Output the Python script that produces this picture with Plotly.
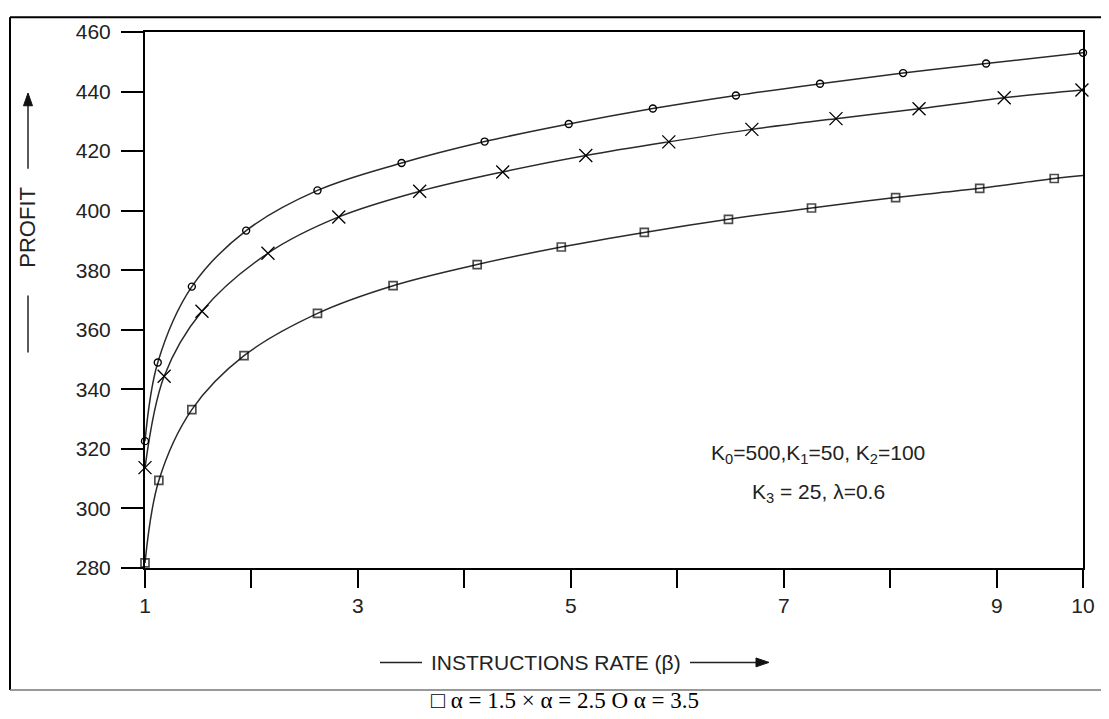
import plotly.graph_objects as go

# Data (x in axis units; the "10" tick sits at the axis end, 9.81)
x_sq = [1.0, 1.13, 1.44, 1.93, 2.62, 3.33, 4.12, 4.91, 5.69, 6.48, 7.26, 8.05, 8.84, 9.54, 9.81]
y_sq = [281.7, 309.4, 333.2, 351.3, 365.5, 374.8, 381.9, 387.8, 392.7, 397.1, 400.9, 404.4, 407.5, 410.8, 411.8]
sq_marked = [True] * 14 + [False]

x_x = [1.0, 1.18, 1.535, 2.155, 2.82, 3.58, 4.36, 5.14, 5.92, 6.70, 7.49, 8.27, 9.07, 9.80]
y_x = [313.7, 344.4, 366.2, 385.7, 397.9, 406.5, 413.0, 418.5, 423.1, 427.3, 430.9, 434.2, 437.9, 440.5]

x_o = [1.0, 1.12, 1.44, 1.95, 2.62, 3.41, 4.19, 4.98, 5.77, 6.55, 7.34, 8.12, 8.90, 9.81]
y_o = [322.6, 349.0, 374.5, 393.3, 406.8, 416.0, 423.2, 429.1, 434.3, 438.7, 442.6, 446.2, 449.4, 453.0]

x_tickvals = [1, 3, 5, 7, 9, 9.81]
x_ticktext = ["1", "3", "5", "7", "9", "10"]
x_minor = [2, 4, 6, 8]
y_tickvals = [280, 300, 320, 340, 360, 380, 400, 420, 440, 460]

OFF = 8  # page body margin
W, H = 1109 - OFF, 719 - OFF
# plot area in screen pixels
L, R, T, B = 145, 1083, 23, 568
pw, ph = R - L, B - T


def px(x):
    return (x - L) / pw


def py(y):
    return (B - y) / ph


LINE = "#2a2a2a"
FONT = "Liberation Sans, Arial, sans-serif"

fig = go.Figure()

fig.add_trace(go.Scatter(
    x=x_sq, y=y_sq, mode="lines+markers", line=dict(color=LINE, width=1.5, shape="spline"),
    marker=dict(symbol="square-open", color="black", line=dict(width=1.7),
                size=[8 if m else 0 for m in sq_marked]),
    cliponaxis=False, showlegend=False))
fig.add_trace(go.Scatter(
    x=x_x, y=y_x, mode="lines+markers", line=dict(color=LINE, width=1.5, shape="spline"),
    marker=dict(symbol="x-thin-open", color="black", size=13, line=dict(width=1.3, color="#222")),
    cliponaxis=False, showlegend=False))
fig.add_trace(go.Scatter(
    x=x_o, y=y_o, mode="lines+markers", line=dict(color=LINE, width=1.5, shape="spline"),
    marker=dict(symbol="circle-open", color="black", size=7, line=dict(width=1.4)),
    cliponaxis=False, showlegend=False))

fig.update_xaxes(range=[1, 9.81], tickvals=x_tickvals, ticktext=x_ticktext,
                 ticks="outside", ticklen=18, tickwidth=2, tickcolor="black",
                 minor=dict(tickvals=x_minor, ticks="outside", ticklen=18, tickwidth=2,
                            tickcolor="black", showgrid=False),
                 showline=True, linecolor="black", linewidth=2, mirror=True,
                 showgrid=False, zeroline=False,
                 tickfont=dict(family=FONT, size=21, color="#222"))
fig.update_yaxes(range=[280, 460], tickvals=y_tickvals,
                 ticks="outside", ticklen=22, tickwidth=2, tickcolor="black",
                 ticklabelstandoff=6,
                 showline=True, linecolor="black", linewidth=2, mirror=True,
                 showgrid=False, zeroline=False,
                 tickfont=dict(family=FONT, size=21, color="#222"))


def seg(x0, y0, x1, y1, color="#222", width=1.5):
    return dict(type="line", xref="paper", yref="paper", x0=px(x0), x1=px(x1),
                y0=py(y0), y1=py(y1), line=dict(color=color, width=width))


def tri(points):
    d = "M " + " L ".join(f"{px(a):.5f},{py(b):.5f}" for a, b in points) + " Z"
    return dict(type="path", xref="paper", yref="paper", path=d,
                fillcolor="#111", line=dict(color="#111", width=1))


shapes = [
    # outer frame
    seg(10, 8, 10, 692, "black", 2),
    seg(10, 8, 1109, 8, "black", 2),
    seg(10, 692, 1109, 692, "#777", 1.5),
    # y title dash + arrow
    seg(28, 291, 28, 349),
    seg(28, 162, 28, 97),
    tri([(28, 85), (23.5, 98), (32.5, 98)]),
    # x title dash + arrow
    seg(380, 664, 422, 664),
    seg(690, 664, 757, 664),
    tri([(769, 664), (756, 659.5), (756, 668.5)]),
]

annotations = [
    dict(text="PROFIT", xref="paper", yref="paper", x=px(28), y=py(222), textangle=-90,
         xanchor="center", yanchor="middle",
         showarrow=False, font=dict(family=FONT, size=22, color="#222")),
    dict(text="INSTRUCTIONS RATE (β)", xref="paper", yref="paper", x=px(556), y=py(664),
         xanchor="center", yanchor="middle",
         showarrow=False, font=dict(family=FONT, size=21, color="#222")),
    dict(text="K<sub>0</sub>=500,K<sub>1</sub>=50, K<sub>2</sub>=100", xref="paper", yref="paper",
         x=px(818), y=py(452), xanchor="center", yanchor="middle",
         showarrow=False, font=dict(family=FONT, size=21, color="#222")),
    dict(text="K<sub>3</sub> = 25, λ=0.6", xref="paper", yref="paper",
         x=px(818), y=py(492), xanchor="center", yanchor="middle",
         showarrow=False, font=dict(family=FONT, size=21, color="#222")),
    dict(text="□ α = 1.5 × α = 2.5 O α = 3.5", xref="paper", yref="paper",
         x=px(565), y=py(703), xanchor="center", yanchor="middle", showarrow=False,
         font=dict(family="Liberation Serif, Times New Roman, serif", size=23, color="black")),
]

fig.update_layout(width=W, height=H,
                  margin=dict(l=L - OFF, r=W - (R - OFF), t=T - OFF, b=H - (B - OFF)),
                  plot_bgcolor="white", paper_bgcolor="white",
                  shapes=shapes, annotations=annotations)

fig.write_html("out.html")
